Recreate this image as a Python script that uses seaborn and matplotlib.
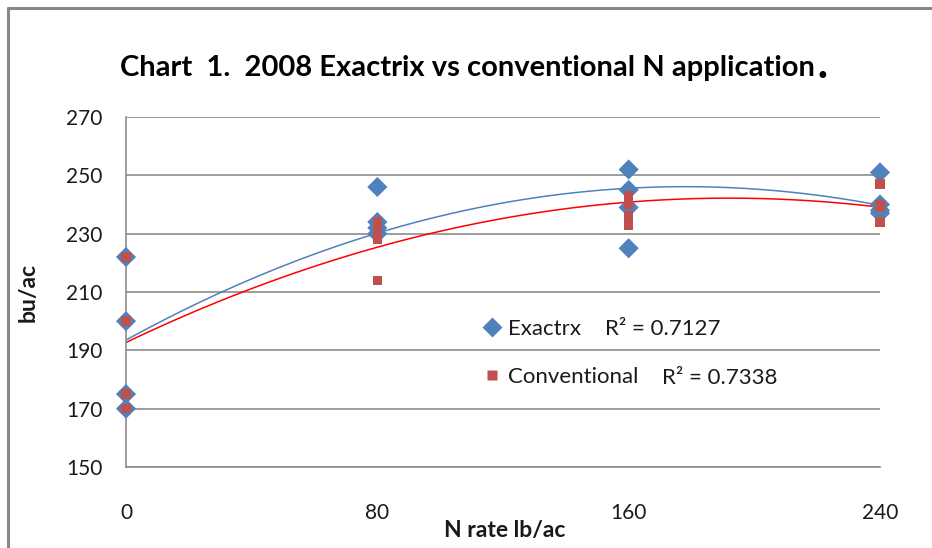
import numpy as np
import pandas as pd
import matplotlib
matplotlib.use("Agg")
import matplotlib.pyplot as plt
import seaborn as sns
from matplotlib.lines import Line2D

# ---- data ----
ex_rate = [0, 0, 0, 0, 80, 80, 80, 80, 160, 160, 160, 160, 240, 240, 240, 240]
ex_yield = [222, 200, 175, 170, 246, 234, 232, 230, 252, 245, 239, 225, 251, 240, 238, 237]
cv_rate = [0, 0, 0, 0, 80, 80, 80, 80, 80, 160, 160, 160, 160, 240, 240, 240, 240]
cv_yield = [222, 200, 175, 170, 234, 232, 230, 228, 214, 243, 240, 236, 233, 247, 240, 239, 234]
x_ticks = [0, 80, 160, 240]
y_ticks = [150, 170, 190, 210, 230, 250, 270]
series_names = ["Exactrx", "Conventional"]
r2_labels = ["R\u00b2 = 0.7127", "R\u00b2 = 0.7338"]

ex = pd.DataFrame({"rate": ex_rate, "yield": ex_yield})
cv = pd.DataFrame({"rate": cv_rate, "yield": cv_yield})

sns.set_style("white")
plt.rcParams["font.family"] = ["Lato", "DejaVu Sans"]

BLUE = "#4F81BD"
RED = "#C0504D"
GRID = "#8C8C8C"
TXT = "#1A1A1A"
W, H = 932, 548

def fx(px):
    return px / W

def fy(py):
    return 1 - py / H

fig = plt.figure(figsize=(9.32, 5.48), dpi=100)
ax = fig.add_axes([fx(126), fy(467), (880 - 126) / W, (467 - 117) / H])

# trend lines (2nd order polynomial fits)
sns.regplot(data=ex, x="rate", y="yield", order=2, ci=None, scatter=False,
            line_kws=dict(color=BLUE, lw=1.1), ax=ax, truncate=True)
sns.regplot(data=cv, x="rate", y="yield", order=2, ci=None, scatter=False,
            line_kws=dict(color="#FF0000", lw=1.1), ax=ax, truncate=True)

sns.scatterplot(data=ex, x="rate", y="yield", marker="D", s=105, color=BLUE,
                edgecolor="none", ax=ax, clip_on=False, zorder=4)
sns.scatterplot(data=cv, x="rate", y="yield", marker="s", s=48, color=RED,
                edgecolor="none", ax=ax, clip_on=False, zorder=5)

ax.set_xlim(0, 240)
ax.set_ylim(150, 270)
ax.set_xticks(x_ticks)
ax.set_yticks(y_ticks)
ax.tick_params(axis="both", labelsize=15, colors=GRID, labelcolor=TXT,
               length=5, width=1.2, direction="out")
ax.tick_params(axis="x", pad=21)
ax.tick_params(axis="y", pad=12)
ax.yaxis.grid(True, color=GRID, lw=1.2)
ax.xaxis.grid(False)
for s in ["top", "right"]:
    ax.spines[s].set_visible(False)
for s in ["left", "bottom"]:
    ax.spines[s].set_color(GRID)
    ax.spines[s].set_linewidth(1.2)
ax.set_axisbelow(True)
ax.set_xlabel("")
ax.set_ylabel("")

fig.text(fx(505), fy(531), "N rate lb/ac", ha="center", va="center",
         fontsize=16.5, fontweight="bold", color=TXT)
fig.text(fx(28), fy(293), "bu/ac", ha="center", va="center", rotation=90,
         fontsize=16.5, fontweight="bold", color=TXT)

# title, scaled to the reference width, with its heavy full stop
title = fig.text(fx(120), fy(68), "Chart  1.  2008 Exactrix vs conventional N application",
                 ha="left", va="center", fontsize=20, fontweight="bold", color="black")
renderer = fig.canvas.get_renderer()
bb = title.get_window_extent(renderer)
title.set_fontsize(20 * (815 - 120) / bb.width)
bb = title.get_window_extent(renderer)
fig.text((bb.x1 + 3) / W, fy(66), ".", ha="left", va="center", fontsize=30,
         fontweight="black", color="black")

handles = [Line2D([], [], ls="none", marker="D", ms=10, color=BLUE, mec="none"),
           Line2D([], [], ls="none", marker="s", ms=6.5, color=RED, mec="none")]
ax.legend(handles, series_names, loc="upper left", bbox_to_anchor=(fx(472), fy(308)),
          bbox_transform=fig.transFigure, frameon=False, fontsize=16, labelcolor=TXT,
          handlelength=0.8, handletextpad=0.3, labelspacing=1.25, borderpad=0)
fig.text(fx(605), fy(329), r2_labels[0], ha="left", va="center", fontsize=16, color=TXT)
fig.text(fx(662), fy(378), r2_labels[1], ha="left", va="center", fontsize=16, color=TXT)

# chart-area border (visible only on top and left in the cropped reference)
fig.add_artist(Line2D([fx(8), fx(8)], [0, fy(8)], color="#888888", lw=2.2,
                      transform=fig.transFigure))
fig.add_artist(Line2D([fx(8), 1], [fy(8), fy(8)], color="#888888", lw=2.2,
                      transform=fig.transFigure))

fig.savefig("out.png", dpi=100)
